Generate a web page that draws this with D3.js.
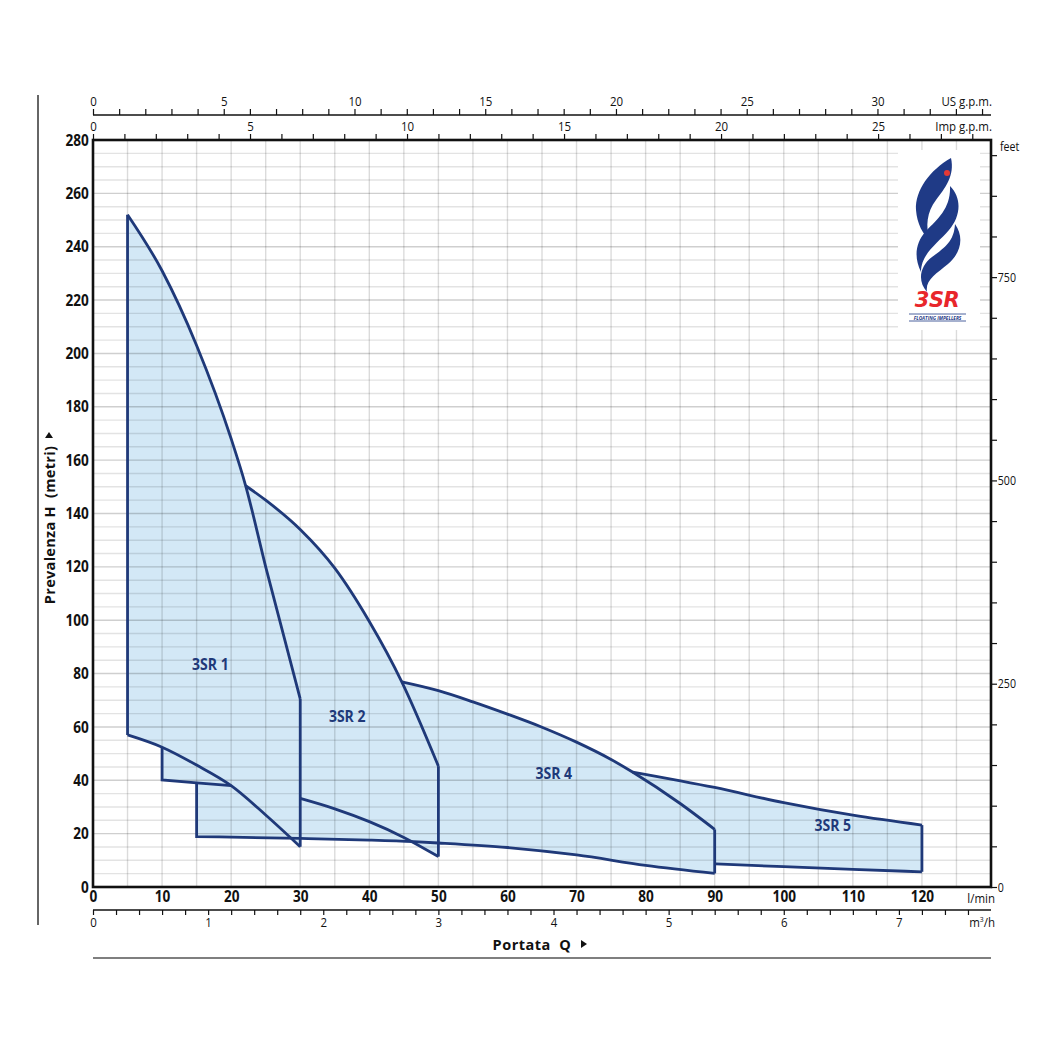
<!DOCTYPE html>
<html><head><meta charset="utf-8">
<script src="https://cdn.jsdelivr.net/npm/d3@7"></script>
<style>
html,body{margin:0;padding:0;background:#fff;}
svg{display:block;}
</style></head>
<body>
<svg id="chart" width="1048" height="1048"></svg>
<script>
// ---------- data (l/min , metres) ----------
const models = ["3SR 1", "3SR 2", "3SR 4", "3SR 5"];
const labelPos = [[17, 83.6], [36.8, 64], [66.7, 42.7], [107.1, 23.2]];
const s1Top = [[5,252],[10,231],[15,203],[20,168],[22.1,150.4],[25,120],[30,70.5]];
const s1Bot = [[5,57],[10,52.4],[15,45.7],[20,38],[25,27],[30,15.1]];
const s1Step = [[10,52.4],[10,40.1],[15,39.05],[20,38]];
const s1Step2 = [[15,39.05],[15,18.9]];
const lowLine = [[15,18.9],[30,18.2],[40,17.6],[46.4,17.0],[50,16.5],[60,14.8],[70,12.0],[80,8.1],[90,5.1]];
const s2Top = [[22.1,150.4],[25,145],[30,134],[35,119.5],[40,99.5],[44.7,76.9],[50,45.3]];
const s2Bot = [[30,33.2],[35,29.3],[40,24.5],[45,18.6],[50,11.4]];
const s4Top = [[44.7,76.9],[50,73.6],[55,69.4],[60,64.8],[65,59.9],[70,54.3],[75,47.8],[78.1,43.1],[85,31.3],[90,21.6]];
const s5Top = [[78.1,43.1],[90,37.3],[100,31.6],[110,26.9],[120,23.2]];
const s5Bot = [[90,8.7],[100,7.6],[110,6.6],[120,5.7]];

// tick values
const lminTicks = d3.range(0, 121, 10);
const hTicks = d3.range(0, 281, 20);
const usTicks = d3.range(0, 35, 1);
const impTicks = d3.range(0, 29, 1);
const m3hTicks = d3.range(0, 39, 1).map(i => i * 0.2);
const feetTicks = d3.range(0, 901, 50);
const feetLabels = [0, 250, 500, 750];

// ---------- layout ----------
const L = 93, R = 991, T = 140, B = 887;
const svg = d3.select("#chart");
const x = d3.scaleLinear().domain([0, 130]).range([L, R]);
const y = d3.scaleLinear().domain([0, 280]).range([B, T]);
const usS = d3.scaleLinear().domain([0, 130 / 3.78541]).range([L, R]);
const impS = d3.scaleLinear().domain([0, 130 / 4.54609]).range([L, R]);
const m3S = d3.scaleLinear().domain([0, 130 * 60 / 1000]).range([L, R]);
const ftS = d3.scaleLinear().domain([0, 280 / 0.3048]).range([B, T]);

const FONT = "'Open Sans',sans-serif";
const SQ = 0.85; // horizontal condensing of labels
const FILL = "#d3e8f6", NAVY = "#1f3979";

const mono = d3.curveMonotoneX;
function seg(p, c) { return { p: p, c: c || d3.curveLinear }; }
function rev(a) { return a.slice().reverse(); }
function between(a, lo, hi) { return a.filter(d => d[0] >= lo - 1e-9 && d[0] <= hi + 1e-9); }
function pathFrom(segs, close) {
  let d = "";
  segs.forEach((s, i) => {
    const l = d3.line().x(p => x(p[0])).y(p => y(p[1])).curve(s.c)(s.p);
    d += i === 0 ? l : "L" + l.slice(1);
  });
  return d + (close ? "Z" : "");
}
function ctext(px, py, str, size, weight, anchor, fill) {
  return svg.append("text").attr("transform", `translate(${px},${py}) scale(${SQ},1)`)
    .attr("text-anchor", anchor || "start").attr("font-family", FONT)
    .attr("font-size", size).attr("font-weight", weight || "normal").attr("fill", fill || "#111").text(str);
}

// ---------- fills ----------
const fills = [
  [seg(s1Top, mono), seg(rev(s1Bot), mono)],
  [seg(s1Step), seg([[15,39.05],[15,18.9]]), seg(between(lowLine, 15, 30), mono), seg([[30,15.1]]), seg(rev(between(s1Bot, 10, 30)), mono)],
  [seg(s2Top, mono), seg(rev(s2Bot), mono), seg([[30,70.5]]), seg(rev(between(s1Top, 22.1, 30)), mono)],
  [seg(s2Bot, mono), seg(rev(between(lowLine, 30, 50)), mono)],
  [seg(s4Top, mono), seg(rev(between(lowLine, 50, 90)), mono), seg([[50,45.3]]), seg(rev(between(s2Top, 44.7, 50)), mono)],
  [seg(s5Top, mono), seg(rev(s5Bot), mono), seg([[90,21.6]]), seg(rev(between(s4Top, 78.1, 90)), mono)]
];
const gFill = svg.append("g");
fills.forEach(f => gFill.append("path").attr("d", pathFrom(f, true)).attr("fill", FILL).attr("stroke", "none"));

// ---------- grid ----------
const gGrid = svg.append("g");
d3.range(5, 130, 5).forEach(v => gGrid.append("line")
  .attr("x1", x(v)).attr("x2", x(v)).attr("y1", T).attr("y2", B)
  .attr("stroke", "rgba(0,0,0,0.14)").attr("stroke-width", 1.4));
d3.range(5, 280, 5).forEach(v => gGrid.append("line")
  .attr("x1", L).attr("x2", R).attr("y1", y(v)).attr("y2", y(v))
  .attr("stroke", v % 20 === 0 ? "rgba(0,0,0,0.19)" : "rgba(0,0,0,0.11)").attr("stroke-width", 1.4));

// ---------- logo ----------
const gLogo = svg.append("g");
gLogo.append("rect").attr("x", 898).attr("y", 150).attr("width", 82).attr("height", 180).attr("fill", "#fff");
const flame = [
  "M951,158 C930,170 915,190 916,210 C917,224 923,234 930,241 C925,226 927,212 936,200 C945,188 955,176 951,158 Z",
  "M950,186 C962,198 961,216 949,230 C937,244 921,254 921,272 C914,258 915,243 926,231 C938,219 951,208 950,186 Z",
  "M955,224 C965,238 960,254 948,264 C936,274 925,280 927,292 C917,281 920,266 932,257 C944,248 954,242 955,224 Z"
];
flame.forEach(d => gLogo.append("path").attr("d", d).attr("fill", "#1f3a86"));
gLogo.append("circle").attr("cx", 947).attr("cy", 173).attr("r", 3).attr("fill", "#e53935");
gLogo.append("text").attr("x", 937).attr("y", 307).attr("text-anchor", "middle")
  .attr("font-family", "'DejaVu Sans',sans-serif").attr("font-weight", "bold").attr("font-style", "italic")
  .attr("font-size", 21).attr("fill", "#e8262b").attr("letter-spacing", "-0.5").text("3SR");
gLogo.append("line").attr("x1", 909).attr("x2", 966).attr("y1", 314).attr("y2", 314).attr("stroke", "#1f3a86").attr("stroke-width", 0.8);
gLogo.append("line").attr("x1", 909).attr("x2", 966).attr("y1", 321).attr("y2", 321).attr("stroke", "#1f3a86").attr("stroke-width", 0.8);
gLogo.append("text").attr("transform", "translate(937.5,319.5) scale(0.85,1)").attr("text-anchor", "middle")
  .attr("font-family", FONT).attr("font-weight", "bold").attr("font-style", "italic")
  .attr("font-size", 5.6).attr("fill", "#1f3a86").text("FLOATING IMPELLERS");

// ---------- curve strokes ----------
const strokes = [
  [seg(s1Top, mono)], [seg(s1Bot, mono)],
  [seg([[5,57],[5,252]])], [seg([[30,70.5],[30,15.1]])],
  [seg(s1Step)], [seg(s1Step2), seg(lowLine, mono)],
  [seg(s2Top, mono)], [seg(s2Bot, mono)], [seg([[50,45.3],[50,11.4]])],
  [seg(s4Top, mono)], [seg([[90,21.6],[90,5.1]])],
  [seg(s5Top, mono)], [seg(s5Bot, mono)], [seg([[120,23.2],[120,5.7]])]
];
const gStroke = svg.append("g");
strokes.forEach(s => gStroke.append("path").attr("d", pathFrom(s, false))
  .attr("fill", "none").attr("stroke", NAVY).attr("stroke-width", 2.8).attr("stroke-linejoin", "miter"));

// model labels
models.forEach((m, i) => ctext(x(labelPos[i][0]), y(labelPos[i][1]) + 6, m, 16.5, "bold", "middle", NAVY));

// ---------- axes ----------
function styleAxis(g, size, weight) {
  g.selectAll("text").attr("font-family", FONT).attr("font-size", size).attr("font-weight", weight)
    .attr("fill", "#111").attr("transform", `scale(${SQ},1)`);
  g.selectAll("line").attr("stroke", "#111").attr("stroke-width", 1.2);
  g.select(".domain").attr("stroke", "#111").attr("stroke-width", 1.5);
}
// US gpm
const gUS = svg.append("g").attr("transform", `translate(0,115)`)
  .call(d3.axisTop(usS).tickValues(usTicks).tickSize(6).tickSizeOuter(0).tickPadding(3)
    .tickFormat(d => d % 5 === 0 ? d : ""));
styleAxis(gUS, 13.5, "normal");
gUS.select(".domain").attr("d", `M${L},0H${R}`);
ctext(992, 106, "US g.p.m.", 13.5, "normal", "end");
// Imp gpm
const gImp = svg.append("g").attr("transform", `translate(0,${T})`)
  .call(d3.axisTop(impS).tickValues(impTicks).tickSize(6).tickSizeOuter(0).tickPadding(3)
    .tickFormat(d => d % 5 === 0 ? d : ""));
styleAxis(gImp, 13.5, "normal");
gImp.select(".domain").remove();
ctext(992, 131, "Imp g.p.m.", 13.5, "normal", "end");
// l/min
const gX = svg.append("g").attr("transform", `translate(0,${B})`)
  .call(d3.axisBottom(x).tickValues(lminTicks).tickSize(0).tickPadding(4).tickFormat(d3.format("d")));
styleAxis(gX, 16, "bold");
gX.select(".domain").remove();
ctext(995, 903, "l/min", 13.5, "normal", "end");
// m3/h
const gM = svg.append("g").attr("transform", `translate(0,910)`)
  .call(d3.axisBottom(m3S).tickValues(m3hTicks).tickSize(5).tickSizeOuter(0).tickPadding(2)
    .tickFormat(d => Math.abs(d - Math.round(d)) < 1e-6 ? Math.round(d) : ""));
styleAxis(gM, 13.5, "normal");
gM.select(".domain").attr("d", `M${L},0H${R}`);
const m3lab = ctext(995, 927, "", 13.5, "normal", "end");
m3lab.append("tspan").text("m");
m3lab.append("tspan").attr("dy", -5).attr("font-size", 8).text("3");
m3lab.append("tspan").attr("dy", 5).text("/h");
// metres
const gY = svg.append("g").attr("transform", `translate(${L},0)`)
  .call(d3.axisLeft(y).tickValues(hTicks).tickSize(0).tickPadding(5));
styleAxis(gY, 16, "bold");
gY.select(".domain").remove();
// feet
const gF = svg.append("g").attr("transform", `translate(${R},0)`)
  .call(d3.axisRight(ftS).tickValues(feetTicks).tickSize(6).tickPadding(2)
    .tickFormat(d => feetLabels.includes(d) ? d : ""));
styleAxis(gF, 12.5, "normal");
gF.select(".domain").remove();
ctext(1000, 151, "feet", 12.5, "normal", "start");

// frame
svg.append("rect").attr("x", L).attr("y", T).attr("width", R - L).attr("height", B - T)
  .attr("fill", "none").attr("stroke", "#111").attr("stroke-width", 2.6);
svg.append("line").attr("x1", 38).attr("x2", 38).attr("y1", 95).attr("y2", 925).attr("stroke", "#333").attr("stroke-width", 1.5);
svg.append("line").attr("x1", L).attr("x2", R).attr("y1", 958).attr("y2", 958).attr("stroke", "#555").attr("stroke-width", 1.5);

// titles
const yt = svg.append("g").attr("transform", "translate(55,525) rotate(-90)");
yt.append("text").attr("x", 0).attr("y", 0).attr("text-anchor", "middle")
  .attr("font-family", FONT).attr("font-weight", "bold").attr("font-size", 14.5)
  .attr("fill", "#111").attr("letter-spacing", "0.3").attr("xml:space", "preserve").text("Prevalenza H  (metri)");
yt.append("path").attr("d", "M87,-10 L87,-2 L93,-6 Z").attr("fill", "#111");
svg.append("text").attr("x", 532).attr("y", 950).attr("text-anchor", "middle")
  .attr("font-family", FONT).attr("font-weight", "bold").attr("font-size", 14.5)
  .attr("fill", "#111").attr("letter-spacing", "0.5").attr("xml:space", "preserve").text("Portata  Q");
svg.append("path").attr("d", "M581,940 L581,948 L587,944 Z").attr("fill", "#111");
</script>
</body></html>
